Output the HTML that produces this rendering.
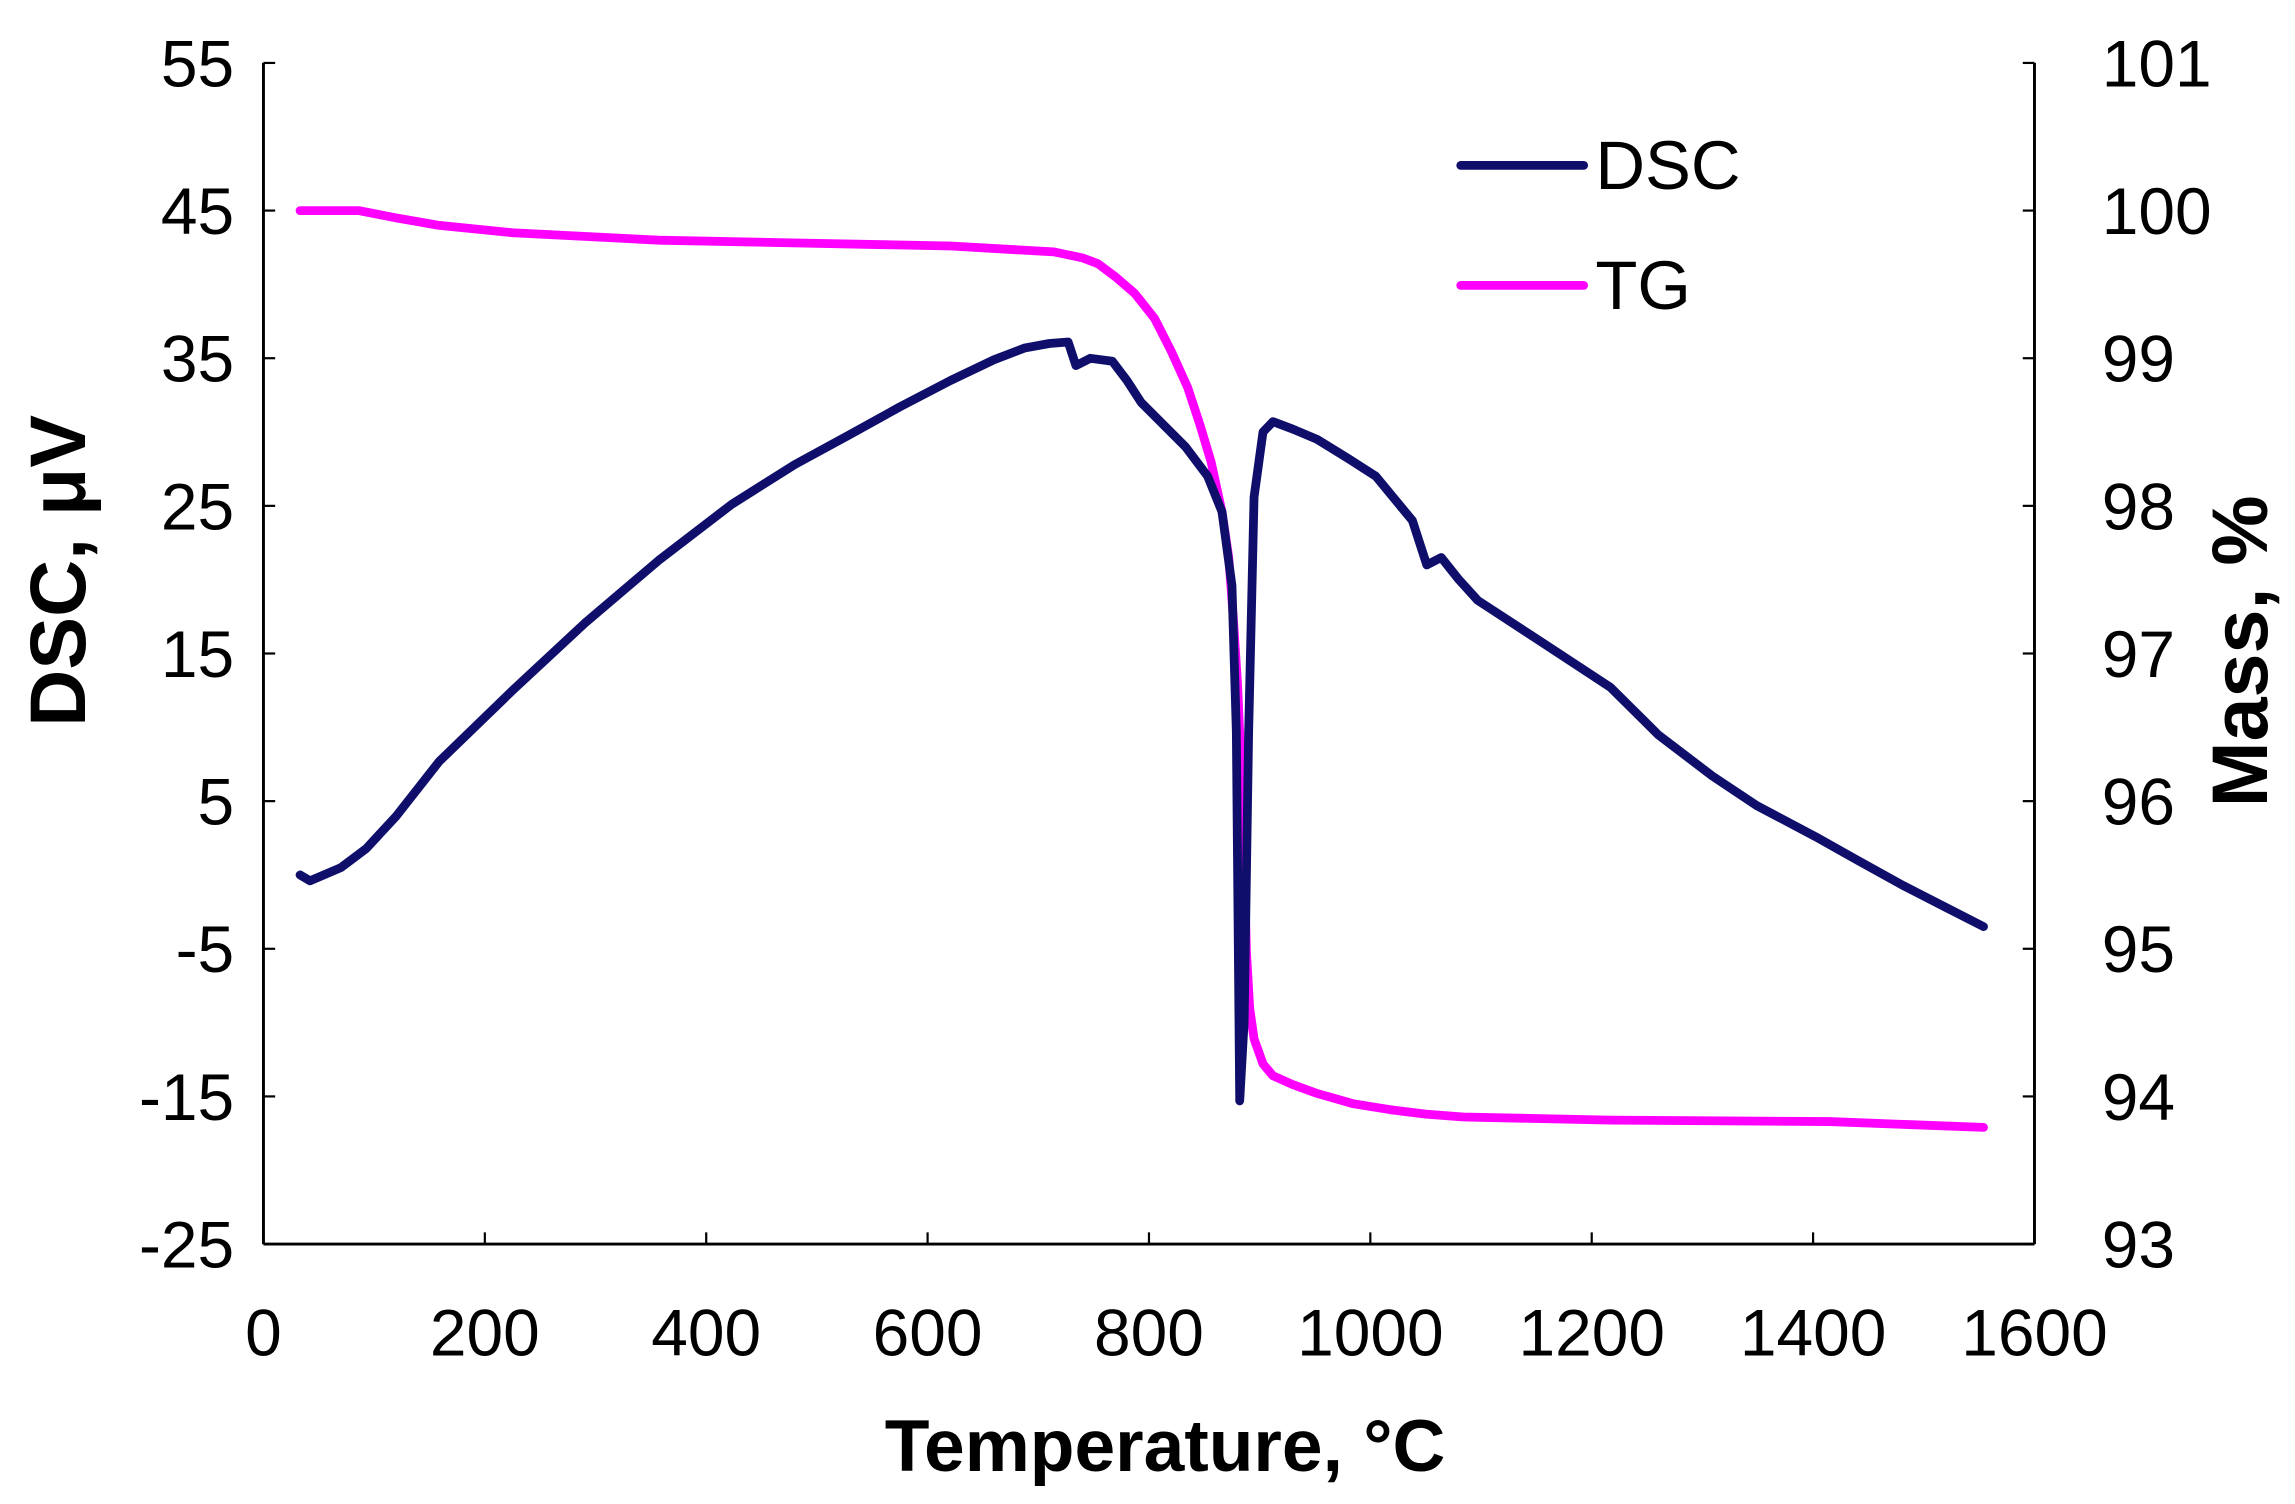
<!DOCTYPE html>
<html><head><meta charset="utf-8"><style>
html,body{margin:0;padding:0;background:#fff;}
svg{display:block;}
text{font-family:"Liberation Sans",Arial,sans-serif;fill:#000;}
</style></head>
<body>
<svg id="chart" width="2295" height="1504" viewBox="0 0 1568 1027.6" preserveAspectRatio="none" xmlns="http://www.w3.org/2000/svg"></svg>
<script>
const xTicks=[0,200,400,600,800,1000,1200,1400,1600];
const dscTicks=[55,45,35,25,15,5,-5,-15,-25];
const massTicks=[101,100,99,98,97,96,95,94,93];
const dscT=[33,42,70,93,120,159,225,291,357,423,480,529,575,621,660,688,710,727,734,747,767,780,793,813,833,853,866,875,879,882,886,890,895,903,912,930,952,980,1005,1038,1051,1064,1080,1097,1150,1217,1260,1309,1349,1402,1440,1481,1520,1554];
const dscV=[0,-0.4,0.5,1.8,4,7.7,12.5,17.1,21.3,25.1,27.8,29.8,31.7,33.5,34.9,35.7,36,36.1,34.5,35,34.8,33.5,32,30.5,29,27,24.6,19.6,9.7,-15.3,-10,9.7,25.6,30,30.7,30.2,29.5,28.2,27,24,21,21.5,20,18.6,16,12.7,9.5,6.7,4.7,2.6,1,-0.7,-2.2,-3.5];
const tgT=[33,86,120,159,225,357,489,621,714,740,754,770,787,805,820,835,846,856,866,872,876,880,883,886,888,891,895,903,912,930,952,985,1018,1050,1084,1217,1415,1554];
const tgV=[100,100.0,99.95,99.9,99.85,99.8,99.78,99.76,99.72,99.68,99.64,99.55,99.44,99.27,99.05,98.8,98.55,98.3,97.96,97.65,97.26,96.8,96.27,95.6,94.98,94.6,94.39,94.22,94.14,94.08,94.02,93.95,93.91,93.88,93.86,93.84,93.83,93.79];

const L=180,R=1390,T=43,B=850;
const xS=v=>L+(v-0)/1600*(R-L);
const yS=v=>T+(55-v)/80*(B-T);
const y2S=v=>T+(101-v)/8*(B-T);
const svg=document.getElementById('chart');
const NS='http://www.w3.org/2000/svg';
function mk(tag,attrs,parent){const e=document.createElementNS(NS,tag);for(const k in attrs)e.setAttribute(k,attrs[k]);(parent||svg).appendChild(e);return e;}

let e;
e=mk('line',{x1:L,y1:T,x2:L,y2:B,stroke:'#000','stroke-width':2});


e=mk('line',{x1:R,y1:T,x2:R,y2:B,stroke:'#000','stroke-width':2});


e=mk('line',{x1:L,y1:B,x2:R,y2:B,stroke:'#000','stroke-width':2});



xTicks.forEach(v=>{
  const x=xS(v);
  e=mk('line',{x1:x,y1:B,x2:x,y2:B-8,stroke:'#000','stroke-width':1.5});
  
  
  e=mk('text',{x:x,y:926,'font-size':45,'text-anchor':'middle'});e.textContent=v;
  
  
});
dscTicks.forEach(v=>{
  const y=yS(v);
  e=mk('line',{x1:L,y1:y,x2:L+8,y2:y,stroke:'#000','stroke-width':1.5});
  
  
  e=mk('text',{x:160,y:y+16,'font-size':45,'text-anchor':'end'});e.textContent=v;
  
  
});
massTicks.forEach(v=>{
  const y=y2S(v);
  e=mk('line',{x1:R,y1:y,x2:R-8,y2:y,stroke:'#000','stroke-width':1.5});
  
  
  e=mk('text',{x:1436,y:y+16,'font-size':45,'text-anchor':'start'});e.textContent=v;
  
  
});

e=mk('text',{x:796,y:1005,'font-size':50,'font-weight':'bold','text-anchor':'middle'});e.textContent='Temperature, °C';


e=mk('text',{x:0,y:0,'font-size':54,'font-weight':'bold','text-anchor':'middle',transform:'translate(58,390) rotate(-90)'});e.textContent='DSC, μV';


e=mk('text',{x:0,y:0,'font-size':54,'font-weight':'bold','text-anchor':'middle',transform:'translate(1549,445) rotate(-90)'});e.textContent='Mass, %';



function path(xs,ys,f){return xs.map((t,i)=>(i?'L':'M')+xS(t).toFixed(1)+','+f(ys[i]).toFixed(1)).join(' ');}
e=mk('path',{d:path(tgT,tgV,y2S),fill:'none',stroke:'#ff00ff','stroke-width':6,'stroke-linejoin':'round','stroke-linecap':'round'});


e=mk('path',{d:path(dscT,dscV,yS),fill:'none',stroke:'#0f0f6b','stroke-width':6,'stroke-linejoin':'round','stroke-linecap':'round'});



e=mk('line',{x1:998,y1:113,x2:1082,y2:113,stroke:'#0f0f6b','stroke-width':6,'stroke-linecap':'round'});


e=mk('text',{x:1090,y:129,'font-size':47});e.textContent='DSC';


e=mk('line',{x1:998,y1:195,x2:1082,y2:195,stroke:'#ff00ff','stroke-width':6,'stroke-linecap':'round'});


e=mk('text',{x:1090,y:211,'font-size':47});e.textContent='TG';


</script>
</body></html>
